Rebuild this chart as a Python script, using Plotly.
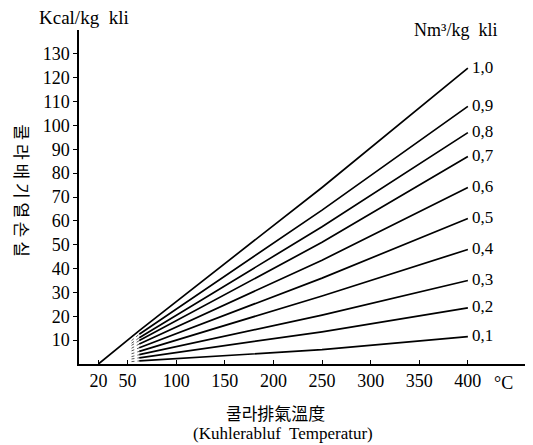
import plotly.graph_objects as go

# Data
ratios = ["1,0", "0,9", "0,8", "0,7", "0,6", "0,5", "0,4", "0,3", "0,2", "0,1"]
temps = [62, 250, 400]               # °C points along each solid curve
v62 = [14.0, 12.5, 11.0, 9.8, 8.4, 6.8, 5.3, 3.9, 2.6, 1.3]
v250 = [74, 64.5, 57.5, 51, 43.5, 36, 28.5, 20.5, 13.5, 6]
v400 = [124, 108, 97, 87, 74, 61, 48, 35, 23.5, 11.5]
dot_start_T = 54
v54 = [11.3, 9.8, 8.7, 7.8, 6.6, 5.5, 4.3, 3.1, 2.1, 1.0]
origin_T, origin_v = 20, 0

x_ticks = [20, 50, 100, 150, 200, 250, 300, 350, 400]
y_ticks = [10, 20, 30, 40, 50, 60, 70, 80, 90, 100, 110, 120, 130]

SERIF = "Liberation Serif, Times New Roman, serif"
CJK = "Noto Sans CJK KR"

fig = go.Figure()

for i, lab in enumerate(ratios):
    fig.add_trace(go.Scatter(
        x=[dot_start_T, temps[0]], y=[v54[i], v62[i]], mode="lines",
        line=dict(color="#555", width=1, dash="dot"), showlegend=False, hoverinfo="skip"))
    xs = list(temps)
    ys = [v62[i], v250[i], v400[i]]
    if i == 0:
        xs = [origin_T] + xs
        ys = [origin_v] + ys
    fig.add_trace(go.Scatter(
        x=xs, y=ys, mode="lines", line=dict(color="black", width=1.7),
        showlegend=False, name=lab))
    fig.add_annotation(x=temps[-1], y=v400[i], xref="x", yref="y", text=lab,
                       showarrow=False, xanchor="left", yanchor="middle", xshift=2, yshift=1,
                       font=dict(family=SERIF, size=17, color="black"))

fig.update_xaxes(range=[0, 467], tickvals=x_ticks, ticktext=[str(t) for t in x_ticks],
                 showline=True, linecolor="black", linewidth=1.5, ticks="inside",
                 ticklen=4, tickcolor="black", showgrid=False, zeroline=False,
                 automargin=False,
                 tickfont=dict(family=SERIF, size=18, color="black"))
fig.update_yaxes(range=[0, 140], tickvals=y_ticks, ticktext=[str(t) for t in y_ticks],
                 showline=True, linecolor="black", linewidth=1.5, ticks="outside",
                 ticklen=4, tickcolor="black", showgrid=False, zeroline=False,
                 automargin=False,
                 tickfont=dict(family=SERIF, size=18, color="black"))

def note(x, y, text, font, **kw):
    fig.add_annotation(xref="paper", yref="paper", x=x, y=y, text=text,
                       showarrow=False, xanchor="center", yanchor="middle",
                       font=font, **kw)

note(0.011, 1.036, "Kcal/kg  kli", dict(family=SERIF, size=19, color="black"))
note(0.83, 1.0, "Nm³/kg  kli", dict(family=SERIF, size=18, color="black"))
note(0.934, -0.057, "°C", dict(family=SERIF, size=18, color="black"))
note(0.432, -0.144, "쿨라排氣溫度", dict(family=CJK, size=17, color="black"))
note(0.449, -0.207, "(Kuhlerabluf  Temperatur)", dict(family=SERIF, size=17, color="black"))
note(-0.124, 0.52, "쿨 라 배 기 열 손 실", dict(family=CJK, size=17, color="black"),
     textangle=90, borderpad=0)

# page body has an 8px margin: shift the figure so the plot area lands where the reference has it
fig.update_layout(width=525, height=437, margin=dict(l=71, r=0, t=22, b=81),
                  plot_bgcolor="white", paper_bgcolor="white")

fig.write_html("out.html")
